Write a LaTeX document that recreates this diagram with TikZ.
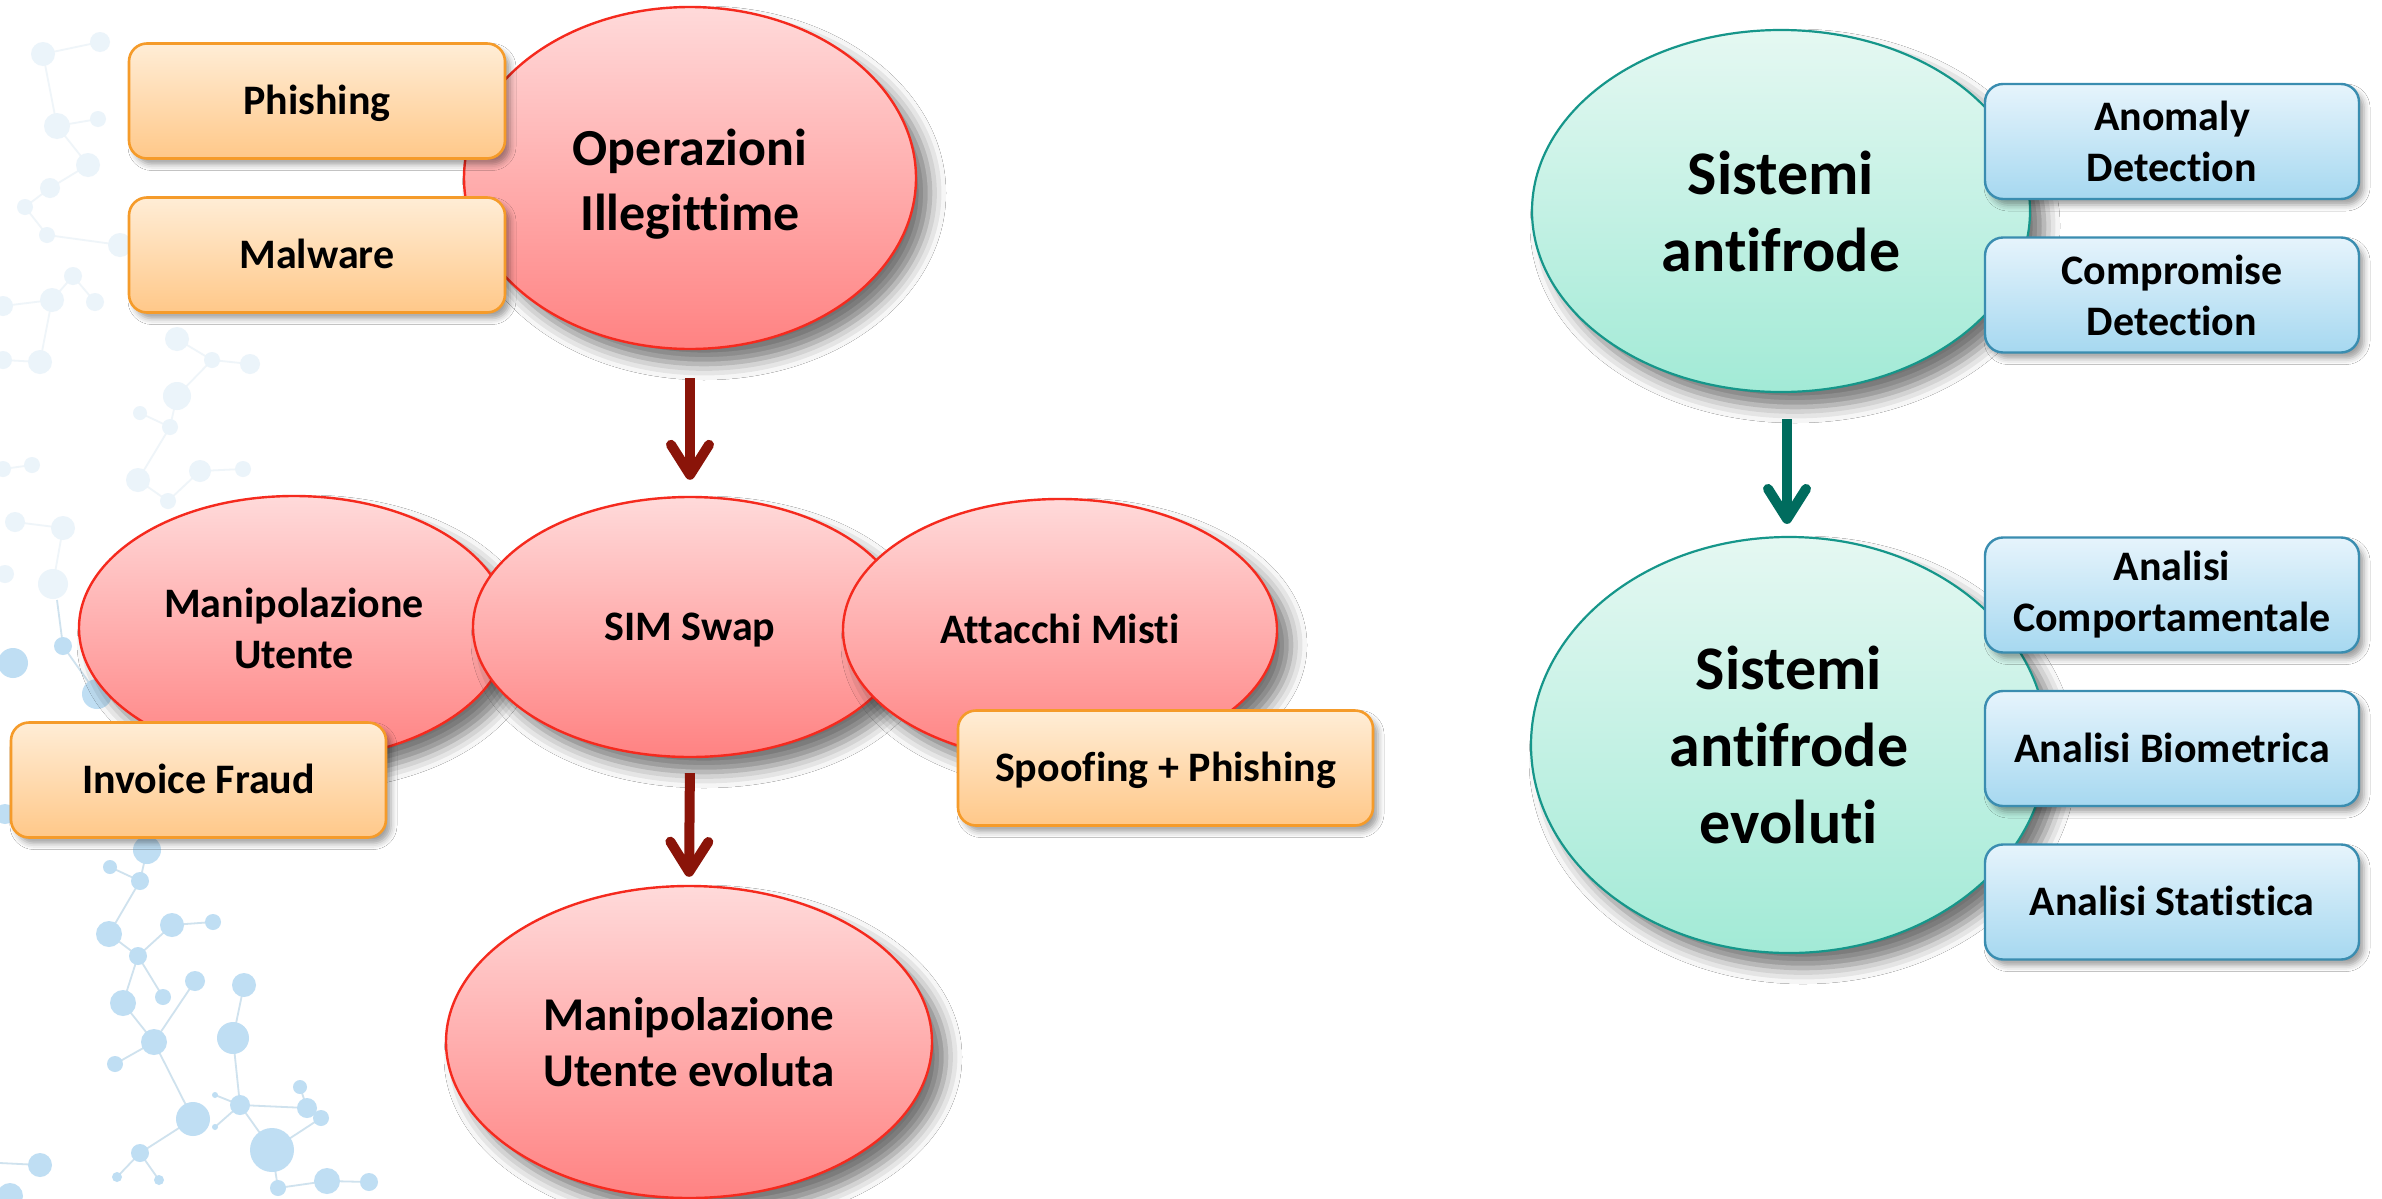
\documentclass[tikz,border=0pt]{standalone}
\usepackage{fontspec}
\setmainfont{Carlito}[Ligatures={NoCommon,NoContextual}]
\usetikzlibrary{arrows.meta,shapes.geometric,shadows.blur}
\definecolor{redtop}{HTML}{FFDADA}
\definecolor{redbot}{HTML}{FF8282}
\definecolor{redline}{HTML}{F52A1E}
\definecolor{ortop}{HTML}{FFEDD6}
\definecolor{orbot}{HTML}{FFC889}
\definecolor{orline}{HTML}{F59B2A}
\definecolor{teatop}{HTML}{E5F8F2}
\definecolor{teabot}{HTML}{A2EAD6}
\definecolor{tealine}{HTML}{16968A}
\definecolor{bltop}{HTML}{E6F4FC}
\definecolor{blbot}{HTML}{A6D8F0}
\definecolor{blline}{HTML}{3A8DB0}
\definecolor{arrred}{HTML}{8A1409}
\definecolor{arrteal}{HTML}{006C5E}
\definecolor{molA}{HTML}{BFDEF3}
\definecolor{molB}{HTML}{EBF4FA}
\definecolor{molL}{HTML}{CFE2EE}
\definecolor{molLB}{HTML}{EFF5F9}
\newcommand\lblfont{\bfseries\fontsize{21}{25.5}\selectfont}
\newcommand\opfont{\bfseries\fontsize{26}{32.5}\selectfont}
\newcommand\sysfont{\bfseries\fontsize{31}{38.5}\selectfont}
\newcommand\evofont{\bfseries\fontsize{23.5}{28}\selectfont}
\tikzset{
  bigshadow/.style={blur shadow={shadow xshift=7pt, shadow yshift=-7.5pt, shadow blur radius=8pt, shadow opacity=55}},
  smallshadow/.style={blur shadow={shadow xshift=2.5pt, shadow yshift=-3pt, shadow blur radius=3pt, shadow opacity=38}},
  oneline/.style={text height=13.6pt, text depth=0pt},
  redell/.style={ellipse, draw=redline, line width=1.2pt, top color=redtop, bottom color=redbot, inner sep=0pt, align=center, bigshadow},
  tealell/.style={ellipse, draw=tealine, line width=1.1pt, top color=teatop, bottom color=teabot, inner sep=0pt, align=center, bigshadow},
  orbox/.style={rectangle, rounded corners=9pt, draw=orline, line width=1.3pt, top color=ortop, bottom color=orbot, inner sep=0pt, align=center, font=\lblfont, minimum height=57.5pt, smallshadow},
  blbox/.style={rectangle, rounded corners=9pt, draw=blline, line width=1.2pt, top color=bltop, bottom color=blbot, inner sep=0pt, align=center, font=\lblfont, minimum width=187pt, minimum height=57.5pt, smallshadow},
  redarrow/.style={draw=arrred, line width=5pt, -{Straight Barb[length=15pt, width=19pt, round]}},
  tealarrow/.style={draw=arrteal, line width=5pt, -{Straight Barb[length=15pt, width=19pt, round]}},
  molline/.style={draw=molL, line width=0.9pt},
  mollineB/.style={draw=molLB, line width=0.9pt}
}
\begin{document}
\begin{tikzpicture}[x=0.5pt,y=-0.5pt]
\useasboundingbox (0,0) rectangle (2382,1199);
\fill[white] (0,0) rectangle (2382,1199);
% faint molecule background (upper)
\foreach \a/\b/\c/\d in {57/126/98/119, 57/126/88/165, 88/165/50/188, 50/188/25/207, 25/207/47/235, 47/235/120/245, 73/276/52/300, 73/276/95/302, 52/300/3/306, 52/300/40/362, 40/362/3/360, 177/339/212/360, 212/360/250/364, 177/396/212/360, 177/396/170/427, 170/427/140/413, 170/427/138/480, 138/480/168/501, 200/471/243/469, 200/471/168/501, 32/465/3/469, 15/522/63/528, 63/528/53/584, 43/54/100/42, 43/54/57/126}
  \draw[mollineB] (\a,\b) -- (\c,\d);
\foreach \x/\y/\r in {43/54/12, 100/42/10, 57/126/13, 98/119/8, 88/165/12, 50/188/10, 25/207/8, 47/235/8, 120/245/12, 73/276/9, 52/300/12, 95/302/9, 3/306/10, 40/362/12, 3/360/9, 177/339/12, 212/360/8, 250/364/10, 177/396/14, 140/413/7, 170/427/8, 200/471/11, 243/469/8, 138/480/12, 168/501/8, 32/465/8, 3/469/8, 15/522/10, 63/528/12, 53/584/15, 5/574/9}
  \fill[molB] (\x,\y) circle[radius=\r*0.5pt];
% molecule background (lower)
\foreach \a/\b/\c/\d in {57/600/63/646, 63/646/97/694, 147/850/140/881, 110/867/140/881, 140/881/109/934, 109/934/138/956, 138/956/172/925, 172/925/213/922, 138/956/123/1003, 138/956/163/997, 123/1003/154/1042, 154/1042/115/1064, 154/1042/195/981, 154/1042/193/1119, 244/985/233/1038, 233/1038/240/1105, 240/1105/307/1108, 240/1105/272/1150, 215/1095/240/1105, 240/1105/215/1127, 307/1108/321/1118, 193/1119/140/1153, 140/1153/117/1177, 140/1153/159/1180, 272/1150/278/1188, 278/1188/327/1181, 327/1181/369/1182, 272/1150/321/1118, 0/1163/40/1165, 300/1087/307/1108}
  \draw[molline] (\a,\b) -- (\c,\d);
\foreach \x/\y/\r in {13/663/15, 63/646/9, 97/694/15, 5/814/10, 147/850/14, 110/867/7, 140/881/9, 109/934/13, 172/925/12, 213/922/8, 138/956/9, 163/997/8, 195/981/10, 244/985/12, 123/1003/13, 154/1042/13, 233/1038/16, 115/1064/8, 240/1105/10, 193/1119/17, 300/1087/7, 307/1108/10, 321/1118/8, 215/1095/3, 215/1127/3, 272/1150/22, 140/1153/9, 40/1165/12, 117/1177/5, 159/1180/5, 278/1188/8, 327/1181/13, 369/1182/9, 10/1196/13}
  \fill[molA] (\x,\y) circle[radius=\r*0.5pt];

% ---- left group ----
\node[redell, minimum width=226pt, minimum height=171pt, font=\opfont] (opI) at (690,178) {\rule{0pt}{24pt}Operazioni\\Illegittime};
\node[orbox, oneline, minimum width=188pt] (phish) at (317,101) {Phishing};
\node[orbox, oneline, minimum width=188pt] (malw) at (317,255) {Malware};

\node[redell, minimum width=215pt, minimum height=132pt, font=\lblfont] (manip) at (294,628) {Manipolazione\\Utente};
\node[redell, oneline, minimum width=217pt, minimum height=130pt, font=\lblfont] (sim) at (690,627) {SIM Swap};
\node[redell, oneline, minimum width=217pt, minimum height=131pt, font=\lblfont] (att) at (1060,630) {Attacchi Misti};
\node[orbox, oneline, minimum width=187.5pt] (inv) at (198.5,780) {Invoice Fraud};
\node[orbox, oneline, minimum width=207.5pt] (spoof) at (1165.5,768) {Spoofing + Phishing};

\node[redell, minimum width=243pt, minimum height=156pt, font=\evofont] (evo) at (689,1042) {Manipolazione\\Utente evoluta};

\draw[redarrow, shorten <=14pt, shorten >=8pt] (opI.south) -- (sim.north);
\draw[redarrow, shorten <=7.5pt, shorten >=4pt] (sim.south) -- (evo.north);

% ---- right group ----
\node[tealell, minimum width=249pt, minimum height=181pt, font=\sysfont] (af) at (1781,211) {Sistemi\\antifrode};
\node[blbox] (anom) at (2172,141.5) {Anomaly\\Detection};
\node[blbox] (comp) at (2172,295) {Compromise\\Detection};

\node[tealell, minimum width=258pt, minimum height=208pt, font=\sysfont] (afe) at (1789,745) {Sistemi\\antifrode\\evoluti};
\node[blbox] (comport) at (2172,595) {Analisi\\Comportamentale};
\node[blbox, oneline] (biom) at (2172,748.5) {Analisi Biometrica};
\node[blbox, oneline] (stat) at (2172,902) {Analisi Statistica};

\draw[tealarrow, shorten <=13pt, shorten >=6pt] ([xshift=3pt]af.south) -- ([xshift=3pt]af.south |- afe.north);
\end{tikzpicture}
\end{document}
